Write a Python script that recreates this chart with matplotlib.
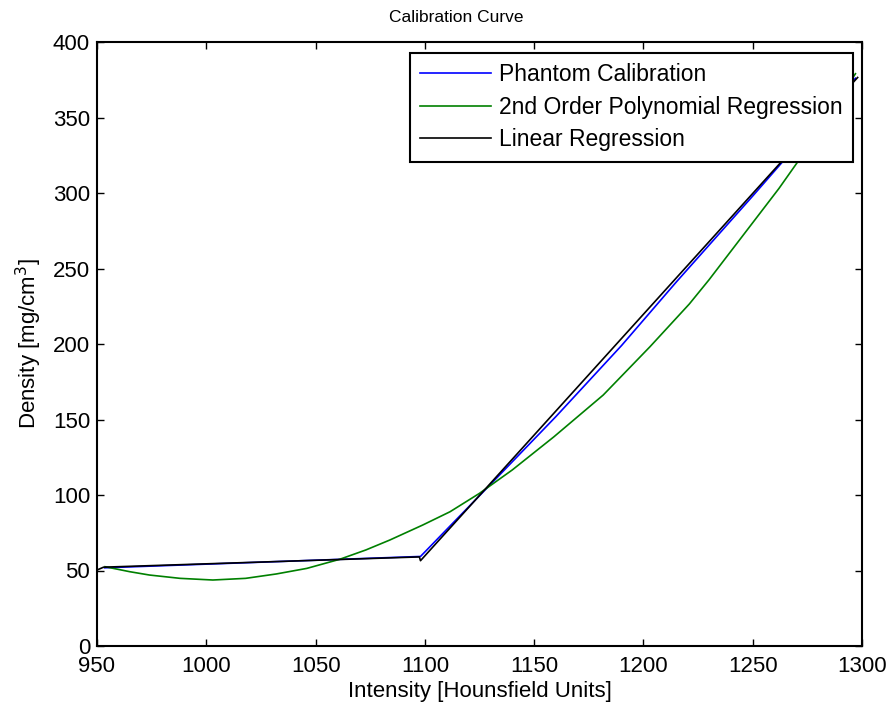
import numpy as np
import matplotlib.pyplot as plt

plt.rcParams['font.family'] = ['Liberation Sans', 'DejaVu Sans']

# phantom calibration (piecewise)
phantom_x = [953.5, 1098, 1130, 1160, 1190, 1215, 1250, 1297]
phantom_y = [51.8, 59.3, 107, 152, 199, 241, 298, 376]

# 2nd order polynomial fit
poly_x = [953.7, 965, 974, 988, 1003, 1018, 1032, 1046, 1061, 1073, 1084,
          1099, 1111.5, 1125, 1140, 1159, 1181.6, 1203, 1221, 1230, 1262,
          1271.5, 1297]
poly_y = [52.5, 49.2, 47.0, 44.8, 43.7, 44.8, 47.7, 51.4, 57.4, 63.6, 70.2,
          80.1, 88.9, 101.1, 116.6, 138.5, 166.2, 198.2, 226.5, 242.5, 303,
          322.5, 379]

# linear regression, two segments
lin_x = [950, 953, 1097.5, 1098, 1298]
lin_y = [50.3, 52.2, 59.0, 56.5, 376.5]

xticks = [950, 1000, 1050, 1100, 1150, 1200, 1250, 1300]
yticks = [0, 50, 100, 150, 200, 250, 300, 350, 400]

fig = plt.figure(figsize=(8.91, 7.12), dpi=100)
ax = fig.add_axes([97/891, 1-646/712, 765/891, 604/712])

ax.plot(phantom_x, phantom_y, color=(0, 0, 1), lw=1.2, label='Phantom Calibration')
ax.plot(poly_x, poly_y, color=(0, 0.5, 0), lw=1.2, label='2nd Order Polynomial Regression')
ax.plot(lin_x, lin_y, color='k', lw=1.2, label='Linear Regression')

ax.set_xlim(950, 1300)
ax.set_ylim(0, 400)
ax.set_xticks(xticks)
ax.set_yticks(yticks)
ax.tick_params(direction='in', top=True, right=True, length=5, width=1,
               labelsize=16)
ax.tick_params(axis='x', pad=7)
ax.tick_params(axis='y', pad=5)
for s in ax.spines.values():
    s.set_linewidth(1.5)

ax.text(0.47, 1.04, 'Calibration Curve', transform=ax.transAxes,
        ha='center', va='center', fontsize=12.5)
ax.set_xlabel('Intensity [Hounsfield Units]', fontsize=16, labelpad=3)
ax.set_ylabel('Density [mg/cm$^3$]', fontsize=16, labelpad=6)

leg = ax.legend(loc='upper right', bbox_to_anchor=(0.988, 0.982),
                borderaxespad=0, fontsize=16.5, handlelength=3.1,
                handletextpad=0.35, labelspacing=0.42, borderpad=0.45,
                fancybox=False, framealpha=1, edgecolor='k')
leg.get_frame().set_linewidth(1.5)

fig.savefig('out.png', dpi=100)
